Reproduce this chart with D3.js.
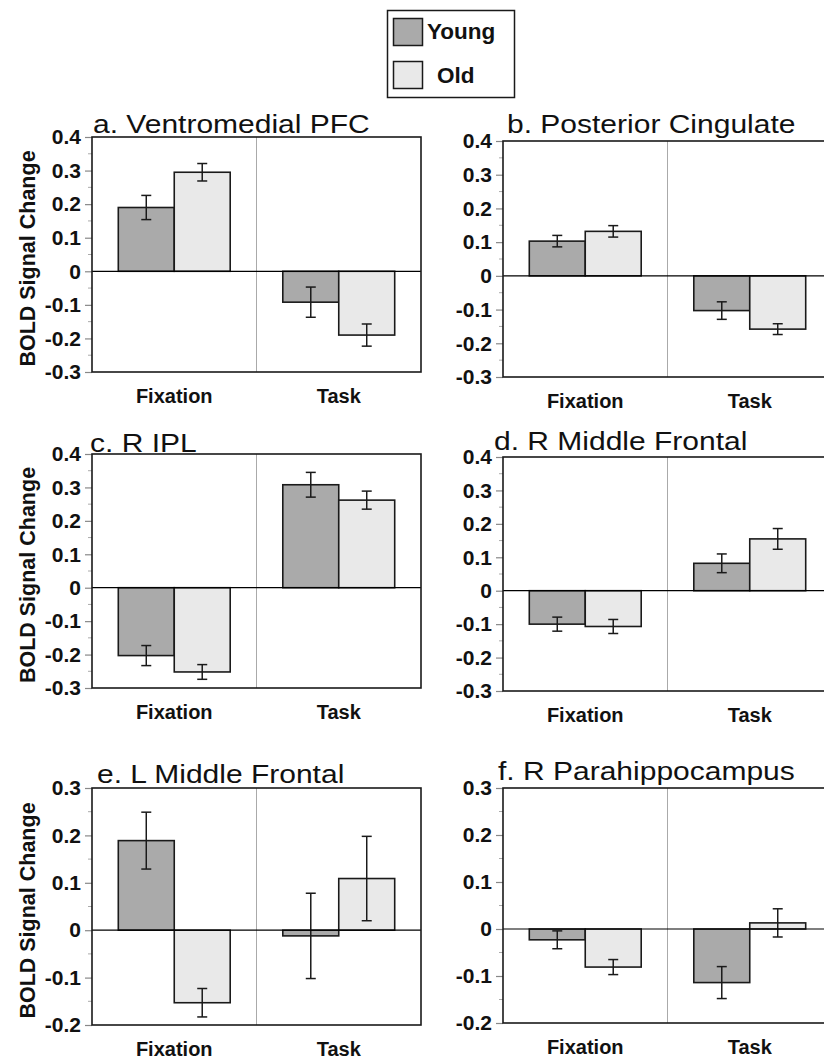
<!DOCTYPE html>
<html>
<head>
<meta charset="utf-8">
<script src="https://cdn.jsdelivr.net/npm/d3@7/dist/d3.min.js"></script>
<style>
  body { margin: 0; background: #fff; }
  svg { display: block; font-family: "Liberation Sans", Arial, sans-serif; }
</style>
</head>
<body>
<svg id="chart" width="824" height="1060"></svg>
<script>
// ---- data ----
const groups = ["Young", "Old"]
const conditions = ["Fixation", "Task"]
const panelTitles = ["a. Ventromedial PFC", "b. Posterior Cingulate", "c. R IPL",
                     "d. R Middle Frontal", "e. L Middle Frontal", "f. R Parahippocampus"]

// per panel: [Fixation, Task]
const youngMeans  = [[0.190, -0.092], [0.103, -0.103], [-0.203, 0.308],
                     [-0.100, 0.082], [0.189, -0.012], [-0.023, -0.114]]
const youngErrors = [[0.036, 0.045], [0.017, 0.026], [0.030, 0.037],
                     [0.021, 0.028], [0.060, 0.090], [0.019, 0.034]]
const oldMeans    = [[0.295, -0.190], [0.132, -0.158], [-0.252, 0.262],
                     [-0.107, 0.155], [-0.153, 0.109], [-0.081, 0.013]]
const oldErrors   = [[0.026, 0.033], [0.017, 0.016], [0.022, 0.027],
                     [0.021, 0.031], [0.030, 0.089], [0.016, 0.030]]

const yDomains = [[-0.3, 0.4], [-0.3, 0.4], [-0.3, 0.4], [-0.3, 0.4], [-0.2, 0.3], [-0.2, 0.3]]
const yTicksBig   = [-0.3, -0.2, -0.1, 0, 0.1, 0.2, 0.3, 0.4]
const yTicksSmall = [-0.2, -0.1, 0, 0.1, 0.2, 0.3]
const yAxisLabel = "BOLD Signal Change"

// ---- layout ----
const frames = [
  {x: 92,  top: 137, bottom: 372, tx: 93,  ty: 133},
  {x: 503, top: 141, bottom: 377, tx: 507, ty: 133},
  {x: 92,  top: 454, bottom: 688, tx: 90,  ty: 452},
  {x: 503, top: 457, bottom: 691, tx: 494, ty: 450},
  {x: 92,  top: 788, bottom: 1025, tx: 97, ty: 783},
  {x: 503, top: 788, bottom: 1023, tx: 498, ty: 780}
]
const bandW = 164.5
const fills = {Young: "#aaaaaa", Old: "#e9e9e9"}
const ink = "#1a1a1a"

const svg = d3.select("#chart")
svg.append("rect").attr("width", 824).attr("height", 1060).attr("fill", "#fff")

// ------ LEGEND ------
const legend = svg.append("g")
legend.append("rect")
  .attr("x", 387.5).attr("y", 10.5).attr("width", 127).attr("height", 87)
  .attr("fill", "#fff").attr("stroke", ink).attr("stroke-width", 1.5)
groups.forEach(function(g, i) {
  legend.append("rect")
    .attr("x", 393.5).attr("y", 18.5 + i * 43).attr("width", 29).attr("height", 27)
    .attr("fill", fills[g]).attr("stroke", ink).attr("stroke-width", 1.5)
  legend.append("text")
    .attr("x", i == 0 ? 427 : 437).attr("y", 39 + i * 44)
    .attr("font-size", 22.5).attr("font-weight", "bold").attr("fill", "#111")
    .text(g)
})

// ------ PANELS ------
function drawPanel(p) {
  const f = frames[p]
  const g = svg.append("g")
  const y = d3.scaleLinear().domain(yDomains[p]).range([f.bottom, f.top])
  const x = d3.scaleBand().domain(conditions).range([f.x, f.x + 2 * bandW])
  const xInner = d3.scaleBand().domain(groups).range([0, bandW]).paddingOuter(0.47)

  const ticks = yDomains[p][1] > 0.35 ? yTicksBig : yTicksSmall
  const minor = d3.range(yDomains[p][0] * 20, yDomains[p][1] * 20 + 1)
    .map(d => d / 20).filter(d => Math.abs(d * 10 - Math.round(d * 10)) > 1e-6)

  // minor ticks
  g.selectAll(".minor").data(minor).join("line")
    .attr("x1", f.x - 4).attr("x2", f.x)
    .attr("y1", d => y(d)).attr("y2", d => y(d))
    .attr("stroke", "#aaa").attr("stroke-width", 1)

  // major axis
  const axis = d3.axisLeft(y).tickValues(ticks).tickSize(7).tickPadding(4)
    .tickFormat(d => d == 0 ? "0" : d3.format(".1f")(d).replace("\u2212", "-"))
  const ag = g.append("g").attr("transform", `translate(${f.x},0)`).call(axis)
  ag.select(".domain").remove()
  ag.selectAll("line").attr("stroke", "#888").attr("stroke-width", 1.2)
  ag.selectAll("text").attr("font-size", 21).attr("font-weight", "bold")
    .attr("fill", "#111").attr("font-family", "Liberation Sans, Arial, sans-serif")

  // divider between conditions
  g.append("line")
    .attr("x1", f.x + bandW).attr("x2", f.x + bandW)
    .attr("y1", f.top).attr("y2", f.bottom)
    .attr("stroke", "#aaa").attr("stroke-width", 1)

  // bars
  conditions.forEach(function(c, ci) {
    const vals = [
      {grp: "Young", m: youngMeans[p][ci], e: youngErrors[p][ci]},
      {grp: "Old",   m: oldMeans[p][ci],   e: oldErrors[p][ci]}
    ]
    vals.forEach(function(v) {
      const bx = x(c) + xInner(v.grp)
      g.append("rect")
        .attr("x", bx).attr("width", xInner.bandwidth())
        .attr("y", y(Math.max(0, v.m)))
        .attr("height", Math.abs(y(v.m) - y(0)))
        .attr("fill", fills[v.grp]).attr("stroke", ink).attr("stroke-width", 1.6)
      const cx = bx + xInner.bandwidth() / 2
      g.append("line")
        .attr("x1", cx).attr("x2", cx)
        .attr("y1", y(v.m - v.e)).attr("y2", y(v.m + v.e))
        .attr("stroke", ink).attr("stroke-width", 1.5)
      ;[v.m - v.e, v.m + v.e].forEach(function(t) {
        g.append("line")
          .attr("x1", cx - 5).attr("x2", cx + 5)
          .attr("y1", y(t)).attr("y2", y(t))
          .attr("stroke", ink).attr("stroke-width", 1.5)
      })
    })

    g.append("text")
      .attr("x", x(c) + bandW / 2).attr("y", f.bottom + 31)
      .attr("text-anchor", "middle").attr("font-size", 20).attr("font-weight", "bold")
      .attr("fill", "#111").text(c)
  })

  // zero line
  g.append("line")
    .attr("x1", f.x).attr("x2", f.x + 2 * bandW)
    .attr("y1", y(0)).attr("y2", y(0))
    .attr("stroke", "#000").attr("stroke-width", 1.2)

  // frame
  g.append("rect")
    .attr("x", f.x).attr("y", f.top)
    .attr("width", 2 * bandW).attr("height", f.bottom - f.top)
    .attr("fill", "none").attr("stroke", ink).attr("stroke-width", 1.6)

  // title
  g.append("text")
    .attr("transform", `translate(${f.tx},${f.ty}) scale(1.2,1)`)
    .attr("font-size", 25).attr("fill", "#111")
    .text(panelTitles[p])

  // y label on left column
  if (f.x < 200) {
    g.append("text")
      .attr("transform", `translate(35,${(f.top + f.bottom) / 2 + 4}) rotate(-90)`)
      .attr("text-anchor", "middle").attr("font-size", 21.5).attr("font-weight", "bold")
      .attr("fill", "#111").text(yAxisLabel)
  }
}

d3.range(panelTitles.length).forEach(drawPanel)
</script>
</body>
</html>
